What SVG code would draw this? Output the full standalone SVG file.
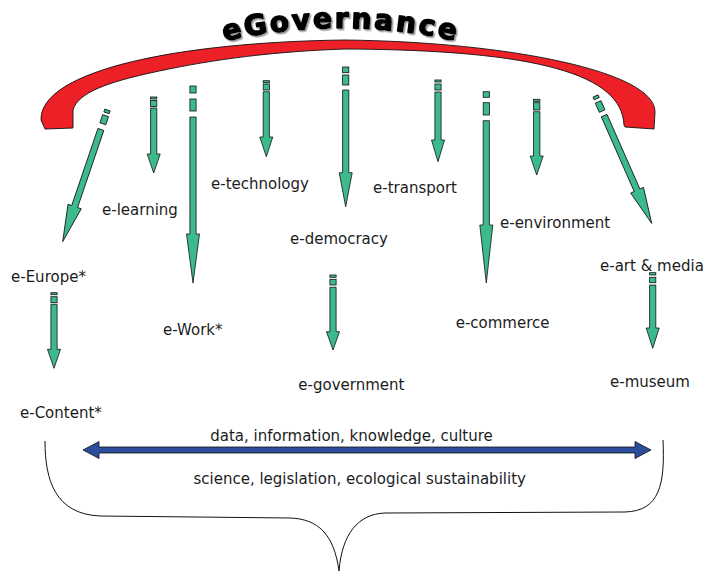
<svg xmlns="http://www.w3.org/2000/svg" width="703" height="571" viewBox="0 0 703 571">
  <style>
    .lbl { font-family: "DejaVu Sans", "Liberation Sans", sans-serif; font-size: 15px; fill: #1c1c1c; }
    .g { fill: #3dba8c; stroke: #111; stroke-width: 0.8; }
    .title { font-family: "DejaVu Sans", "Liberation Sans", sans-serif; font-size: 28px; font-weight: bold; letter-spacing: 2.6px; fill: #000; stroke: #000; stroke-width: 1.6; stroke-linejoin: round; }
  </style>
  <defs>
    <path id="arc" d="M 212 44 Q 341 12 470 44"/>
    <filter id="shadow" x="-10%" y="-30%" width="120%" height="160%">
      <feDropShadow dx="1.5" dy="1.5" stdDeviation="0.3" flood-color="#9a9a9a" flood-opacity="1"/>
    </filter>
  </defs>
  <rect width="703" height="571" fill="#fff"/>

  <g id="title">
    <text class="title" filter="url(#shadow)"><textPath href="#arc" startOffset="50%" text-anchor="middle">eGovernance</textPath></text>
  </g>

  <g id="arch">
    <path d="M 45 129 L 41 120 C 40 70, 180 42, 345 40 C 510 42, 656 72, 655 112 L 654 129 L 625 127 L 624 125 C 622 75, 540 50, 345 49 C 260 52, 200 62, 150 73 C 110 82, 78 92, 73 110 L 73 128 Z" fill="#ed2028" stroke="#111" stroke-width="0.9"/>
  </g>

  <g id="connectors">
    <g id="arrow-europe" transform="translate(107.5,110) rotate(18.8)">
      <rect class="g" x="-2.8" y="0" width="5.6" height="3"/>
      <rect class="g" x="-3.1" y="6" width="6.2" height="8.5"/>
      <path class="g" d="M -3.1 20.5 H 3.1 V 102 H 7 L 0 139 L -7 102 H -3.1 Z"/>
    </g>
    <g id="arrow-learning" transform="translate(153.7,0)">
      <rect class="g" x="-3.1" y="97" width="6.2" height="2"/>
      <rect class="g" x="-3.1" y="100.5" width="6.2" height="6"/>
      <path class="g" d="M -3.1 108 H 3.1 V 154 H 6.5 L 0 173 L -6.5 154 H -3.1 Z"/>
    </g>
    <g id="arrow-work" transform="translate(193,0)">
      <rect class="g" x="-3.1" y="86" width="6.2" height="7"/>
      <rect class="g" x="-3.1" y="99" width="6.2" height="12"/>
      <path class="g" d="M -3.1 117 H 3.1 V 234 H 6.5 L 0 283 L -6.5 234 H -3.1 Z"/>
    </g>
    <g id="arrow-technology" transform="translate(266.3,0)">
      <rect class="g" x="-3.1" y="80.7" width="6.2" height="2"/>
      <rect class="g" x="-3.1" y="84" width="6.2" height="6"/>
      <path class="g" d="M -3.1 91.7 H 3.1 V 137 H 6.5 L 0 156.7 L -6.5 137 H -3.1 Z"/>
    </g>
    <g id="arrow-democracy" transform="translate(345.7,0)">
      <rect class="g" x="-3.1" y="67" width="6.2" height="5.7"/>
      <rect class="g" x="-3.1" y="75" width="6.2" height="10"/>
      <path class="g" d="M -3.1 90 H 3.1 V 172.7 H 6.5 L 0 206.7 L -6.5 172.7 H -3.1 Z"/>
    </g>
    <g id="arrow-transport" transform="translate(438,0)">
      <rect class="g" x="-3.1" y="80" width="6.2" height="2"/>
      <rect class="g" x="-3.1" y="84" width="6.2" height="6"/>
      <path class="g" d="M -3.1 92 H 3.1 V 140 H 6.5 L 0 161.7 L -6.5 140 H -3.1 Z"/>
    </g>
    <g id="arrow-commerce" transform="translate(486.3,0)">
      <rect class="g" x="-3.1" y="91.7" width="6.2" height="5.6"/>
      <rect class="g" x="-3.1" y="102.7" width="6.2" height="12.3"/>
      <path class="g" d="M -3.1 120.7 H 3.1 V 225 H 6.5 L 0 283 L -6.5 225 H -3.1 Z"/>
    </g>
    <g id="arrow-environment" transform="translate(536.7,0)">
      <rect class="g" x="-3.2" y="99.3" width="6.4" height="2"/>
      <rect class="g" x="-3.2" y="102.7" width="6.4" height="7.3"/>
      <path class="g" d="M -3.2 111.7 H 3.2 V 156 H 6.5 L 0 175 L -6.5 156 H -3.2 Z"/>
    </g>
    <g id="arrow-art" transform="translate(595.5,96) rotate(-23.8)">
      <rect class="g" x="-2.8" y="0" width="5.6" height="3"/>
      <rect class="g" x="-3.1" y="6.5" width="6.2" height="10"/>
      <path class="g" d="M -3.1 21.4 H 3.1 V 103 H 7 L 0 139.2 L -7 103 H -3.1 Z"/>
    </g>
    <g id="arrow-museum" transform="translate(652.7,0)">
      <rect class="g" x="-3.1" y="272.7" width="6.2" height="2.3"/>
      <rect class="g" x="-3.1" y="277.3" width="6.2" height="5.4"/>
      <path class="g" d="M -3.1 285 H 3.1 V 328 H 6.5 L 0 348.3 L -6.5 328 H -3.1 Z"/>
    </g>
    <g id="arrow-content" transform="translate(54,0)">
      <rect class="g" x="-3.1" y="292.7" width="6.2" height="2"/>
      <rect class="g" x="-3.1" y="296.7" width="6.2" height="6"/>
      <path class="g" d="M -3.1 304.3 H 3.1 V 349.3 H 6.5 L 0 368.3 L -6.5 349.3 H -3.1 Z"/>
    </g>
    <g id="arrow-government" transform="translate(333,0)">
      <rect class="g" x="-3.1" y="275" width="6.2" height="2.3"/>
      <rect class="g" x="-3.1" y="279.3" width="6.2" height="5.7"/>
      <path class="g" d="M -3.1 287.3 H 3.1 V 331.7 H 6.5 L 0 350 L -6.5 331.7 H -3.1 Z"/>
    </g>
    <g id="double-arrow">
      <path d="M 83 450 L 99 441.5 V 447 H 635 V 441.5 L 651 450 L 635 458.5 V 453 H 99 V 458.5 Z" fill="#2c4c9c" stroke="#111" stroke-width="0.8"/>
    </g>
    <g id="brace" fill="none" stroke="#111" stroke-width="1">
      <path d="M 45 441 C 45 480, 55 514, 100 516 L 290 518 C 318 519, 334 534, 339 571"/>
      <path d="M 663 440 C 665 484, 660 511, 625 512 L 385 513 C 358 514, 342 534, 339 571"/>
    </g>
  </g>

  <g id="n-europe"><text class="lbl" x="11" y="282">e-Europe*</text></g>
  <g id="n-learning"><text class="lbl" x="102" y="215">e-learning</text></g>
  <g id="n-technology"><text class="lbl" x="211" y="188.5">e-technology</text></g>
  <g id="n-democracy"><text class="lbl" x="290" y="243.5">e-democracy</text></g>
  <g id="n-transport"><text class="lbl" x="373" y="192.5">e-transport</text></g>
  <g id="n-environment"><text class="lbl" x="500" y="228.3">e-environment</text></g>
  <g id="n-art"><text class="lbl" x="600" y="271">e-art &amp; media</text></g>
  <g id="n-work"><text class="lbl" x="163" y="335">e-Work*</text></g>
  <g id="n-commerce"><text class="lbl" x="455.7" y="328.3">e-commerce</text></g>
  <g id="n-government"><text class="lbl" x="298.3" y="390">e-government</text></g>
  <g id="n-museum"><text class="lbl" x="610" y="387">e-museum</text></g>
  <g id="n-content"><text class="lbl" x="20" y="418">e-Content*</text></g>
  <g id="n-data"><text class="lbl" x="351.5" y="441" text-anchor="middle">data, information, knowledge, culture</text></g>
  <g id="n-science"><text class="lbl" x="359.7" y="484" text-anchor="middle">science, legislation, ecological sustainability</text></g>
</svg>
